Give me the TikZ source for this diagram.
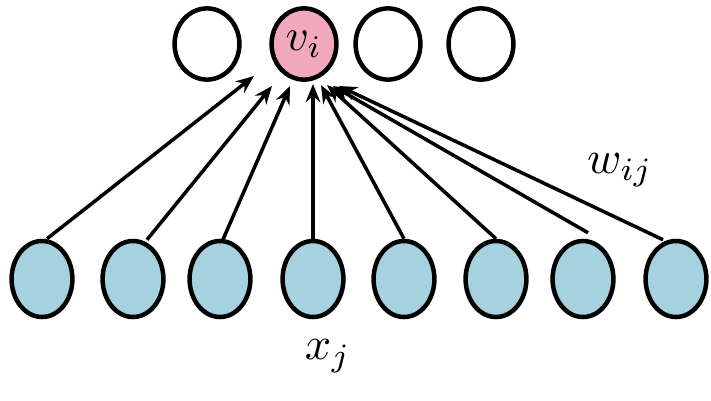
\documentclass[tikz,border=0pt]{standalone}
\usetikzlibrary{shapes.geometric,arrows.meta}
\definecolor{inpblue}{RGB}{166,210,223}
\definecolor{outpink}{RGB}{242,168,188}

\begin{document}
\begin{tikzpicture}[x=0.025cm, y=-0.025cm, >={Stealth[length=0.45cm,width=0.36cm]},
  outnode/.style={draw, line width=3.2pt, ellipse, minimum width=1.62cm, minimum height=1.78cm, inner sep=0pt},
  innode/.style={draw, line width=3.2pt, ellipse, fill=inpblue, minimum width=1.52cm, minimum height=1.9cm, inner sep=0pt},
  wire/.style={->, line width=2.5pt}]
\useasboundingbox (0,0) rectangle (711,401);
% output layer
\node[outnode] (Y1) at (207,44) {};
\node[outnode, fill=outpink] (Y2) at (304,44) {\scalebox{3.2}{$v_i$}};
\node[outnode] (Y3) at (388,44) {};
\node[outnode] (Y4) at (481,44) {};
% input layer
\node[innode] (X1) at (42,279) {};
\node[innode] (X2) at (133,279) {};
\node[innode] (X3) at (220,279) {};
\node[innode] (X4) at (313,279) {};
\node[innode] (X5) at (404,279) {};
\node[innode] (X6) at (496,279) {};
\node[innode] (X7) at (583,279) {};
\node[innode] (X8) at (676,279) {};
% arrow tips under v_i
\coordinate (T1) at (254,76);
\coordinate (T2) at (272,86);
\coordinate (T3) at (290,86);
\coordinate (T4) at (313,84);
\coordinate (T5) at (321,85);
\coordinate (T6) at (327,85);
\coordinate (T7) at (333,86);
\coordinate (T8) at (339,86);
\draw[wire] (X1.north) ++(5,0) -- (T1);
\draw[wire] (X2.north) ++(14,1) -- (T2);
\draw[wire] (X3.north) ++(2,3) -- (T3);
\draw[wire] (X4.north) -- (T4);
\draw[wire] (X5.north) -- (T5);
\draw[wire] (X6.north) -- (T6);
\draw[wire] (X7.north) ++(5,-6) -- (T7);
\draw[wire] (X8.north) ++(-13,1) -- (T8);
% labels
\node (W) at (620,170) {\scalebox{3.3}{$w_{ij}$}};
\node (XJ) at (328,356) {\scalebox{3.3}{$x_j$}};
\end{tikzpicture}
\end{document}
